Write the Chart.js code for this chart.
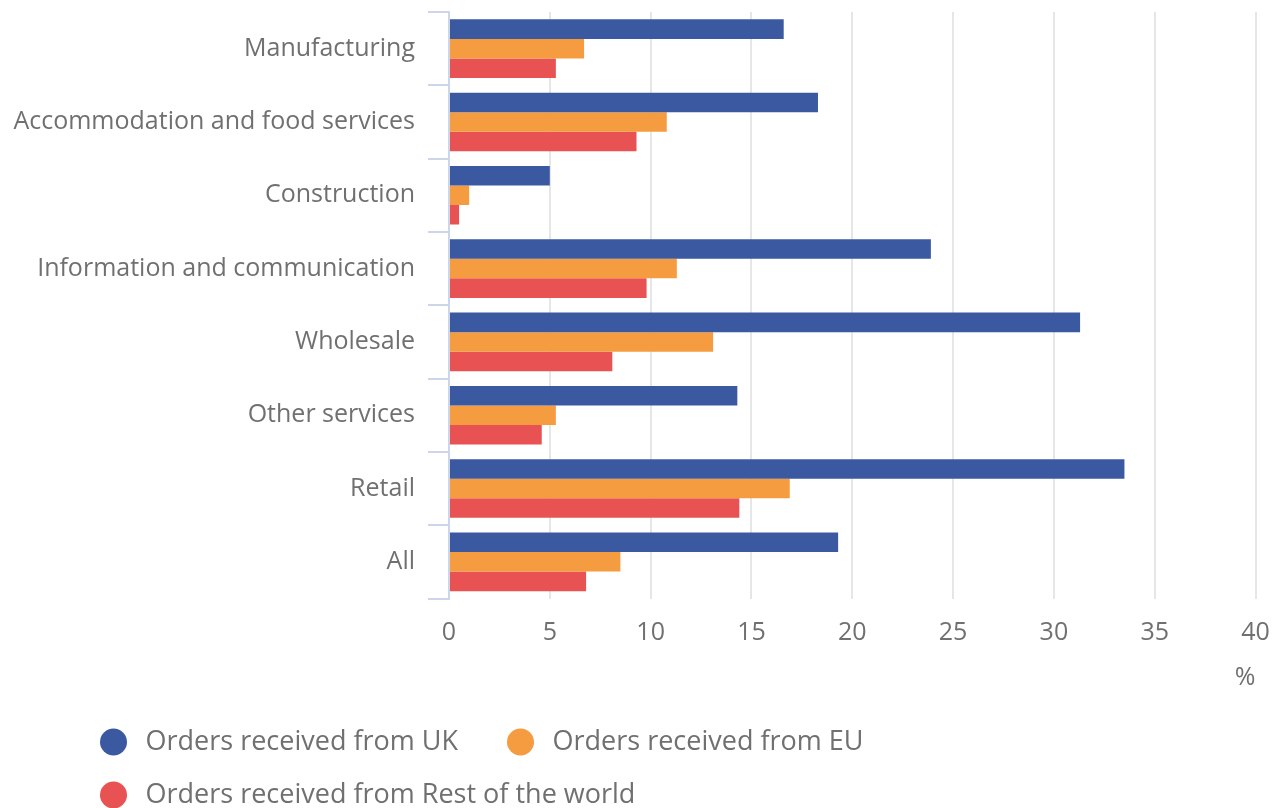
<!DOCTYPE html>
<html>
<head>
<meta charset="utf-8">
<script src="https://cdn.jsdelivr.net/npm/chart.js@4.4.1/dist/chart.umd.min.js"></script>
<style>
  html, body { margin: 0; padding: 0; background: #fff; }
  #wrap { width: 1276px; height: 808px; position: relative; }
</style>
</head>
<body>
<div id="wrap"><canvas id="myChart"></canvas></div>
<script>
// data
let categories = ['Manufacturing', 'Accommodation and food services', 'Construction',
  'Information and communication', 'Wholesale', 'Other services', 'Retail', 'All'];
let ukValues = [16.6, 18.3, 5.0, 23.9, 31.3, 14.3, 33.5, 19.3];
let euValues = [6.7, 10.8, 1.0, 11.3, 13.1, 5.3, 16.9, 8.5];
let rowValues = [5.3, 9.3, 0.5, 9.8, 8.1, 4.6, 14.4, 6.8];
let seriesNames = ['Orders received from UK', 'Orders received from EU', 'Orders received from Rest of the world'];
let xMin = 0, xMax = 40, xStep = 5;
let axisTitle = '%';

let colours = ['#3b59a0', '#f69c40', '#e95253'];
let textColour = '#707070';
let fontFamily = "'Open Sans', 'Noto Sans', sans-serif";

// legend dot: circle drawn towards the right of a wider canvas, leaves room before it
let makeDot = (colour) => {
    let c = document.createElement('canvas');
    c.width = 55;
    c.height = 28;
    let g = c.getContext('2d');
    g.fillStyle = colour;
    g.beginPath();
    g.arc(36.5, 14, 13.5, 0, Math.PI * 2);
    g.fill();
    return c;
};

let allValues = [ukValues, euValues, rowValues];
let datasets = allValues.map((vals, i) => ({
    label: seriesNames[i],
    data: vals,
    backgroundColor: colours[i],
    borderWidth: 0,
    pointStyle: makeDot(colours[i]),
    barPercentage: 1.0,
    categoryPercentage: 0.8
}));

// legend is indented from the left edge in the original
let legendIndent = {
    id: 'legendIndent',
    afterLayout: (chart) => {
        chart.legend.left += 51;
    }
};

let ctx = document.getElementById('myChart').getContext('2d');
let myChart = new Chart(ctx, {
    type: 'bar',
    data: {
        labels: categories,
        datasets: datasets
    },
    options: {
        indexAxis: 'y',
        responsive: true,
        maintainAspectRatio: false,
        animation: false,
        layout: {
            padding: { left: 0, right: 20.5, top: 12, bottom: -10.5 }
        },
        scales: {
            x: {
                min: xMin,
                max: xMax,
                ticks: {
                    stepSize: xStep,
                    color: textColour,
                    font: { family: fontFamily, size: 25, lineHeight: 1 },
                    padding: 22
                },
                grid: {
                    color: '#e6e6e6',
                    lineWidth: 2,
                    drawTicks: false
                },
                border: { display: false },
                title: {
                    display: true,
                    text: axisTitle,
                    align: 'end',
                    color: textColour,
                    font: { family: fontFamily, size: 25, lineHeight: 1 },
                    padding: { top: -2, bottom: 12 }
                },
                afterFit: (scale) => {
                    scale.paddingLeft = 0;
                    scale.paddingRight = 0;
                }
            },
            y: {
                ticks: {
                    color: textColour,
                    font: { family: fontFamily, size: 25 },
                    padding: 13
                },
                grid: {
                    drawOnChartArea: false,
                    drawTicks: true,
                    tickLength: 21,
                    color: '#ccd6eb',
                    lineWidth: 2
                },
                border: { display: true, color: '#ccd6eb', width: 2 },
                afterFit: (scale) => {
                    scale.width = 449;
                    scale.paddingTop = 0;
                    scale.paddingBottom = 0;
                }
            }
        },
        plugins: {
            legend: {
                position: 'bottom',
                align: 'start',
                labels: {
                    usePointStyle: true,
                    pointStyleWidth: 55,
                    boxHeight: 27,
                    padding: 26,
                    color: textColour,
                    font: { family: fontFamily, size: 27 }
                }
            },
            tooltip: { enabled: false }
        }
    },
    plugins: [legendIndent]
});
</script>
</body>
</html>
